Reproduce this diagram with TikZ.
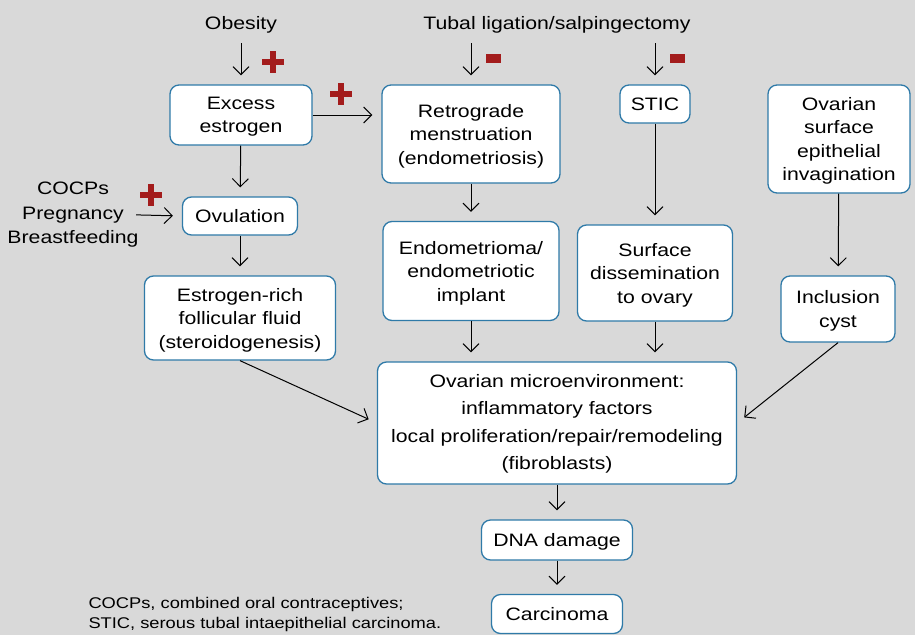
\documentclass[tikz,border=0pt]{standalone}
\usepackage{fontspec}
\setmainfont[FakeStretch=1.18]{Liberation Sans}
\usetikzlibrary{arrows.meta,positioning}
\definecolor{bggray}{HTML}{D9D9D9}
\definecolor{boxblue}{HTML}{2F7AA8}
\definecolor{signred}{HTML}{A31C1C}

\begin{document}
\begin{tikzpicture}[->,>={Straight Barb[length=8pt,width=16pt]},x=1pt,y=-1pt,line width=1pt,shorten >=9pt]
  \tikzstyle{box}=[draw=boxblue,line width=1.3pt,fill=white,rounded corners=9pt,align=center,font=\fontsize{18}{23.5}\selectfont,inner sep=2pt,text depth=-2pt]
  \tikzstyle{txt}=[align=center,font=\fontsize{18}{24.5}\selectfont,inner sep=2pt,execute at begin node={\rule{0pt}{18pt}}]
  \tikzset{plussign/.pic={\fill[signred] (-11,-3) rectangle (11,3); \fill[signred] (-3,-11) rectangle (3,11);},
           minussign/.pic={\fill[signred] (-7.5,-4.5) rectangle (7.5,4.5);}}

  \fill[bggray,-,shorten >=0pt] (0,0) rectangle (915,635);
  \useasboundingbox (0,0) rectangle (915,635);

  % boxes
  \node[box,minimum width=142,minimum height=60]  (excess) at (241,115) {Excess\\estrogen};
  \node[box,minimum width=178,minimum height=98]  (retro)  at (471,134) {Retrograde\\menstruation\\(endometriosis)};
  \node[box,minimum width=70,minimum height=38]   (stic)   at (655,104) {STIC};
  \node[box,minimum width=142,minimum height=108] (ose)    at (839,139) {Ovarian\\surface\\epithelial\\invagination};
  \node[box,minimum width=115,minimum height=38]  (ovul)   at (240,216) {Ovulation};
  \node[box,minimum width=176,minimum height=99]  (endo)   at (471,271) {Endometrioma/\\endometriotic\\implant};
  \node[box,minimum width=155,minimum height=96]  (dissem) at (655,273) {Surface\\dissemination\\to ovary};
  \node[box,minimum width=191,minimum height=84]  (follic) at (240,318) {Estrogen-rich\\follicular fluid\\(steroidogenesis)};
  \node[box,minimum width=114,minimum height=66]  (cyst)   at (838,309) {Inclusion\\cyst};
  \node[box,minimum width=359,minimum height=122,text depth=2pt,font=\fontsize{18}{27.5}\selectfont] (micro) at (557,423)
       {Ovarian microenvironment:\\inflammatory factors\\local proliferation/repair/remodeling\\(fibroblasts)};
  \node[box,minimum width=151,minimum height=40]  (dna)    at (557,540) {DNA damage};
  \node[box,minimum width=131,minimum height=39]  (carc)   at (557,614) {Carcinoma};

  % free text
  \node[txt] (obesity) at (241,22) {Obesity};
  \node[txt] (tubal)   at (557,22) {Tubal ligation/salpingectomy};
  \node[txt] (cocp)    at (73,215) {COCPs\\Pregnancy\\Breastfeeding};
  \node[align=left,anchor=west,inner sep=0pt,font=\fontsize{15.5}{20}\selectfont] (note) at (88,614)
       {COCPs, combined oral contraceptives;\\STIC, serous tubal intaepithelial carcinoma.};

  % arrows
  \draw[shorten <=8pt] (obesity) -- (excess);
  \draw[shorten <=8pt] (tubal.south -| retro.north) -- (retro.north);
  \draw[shorten <=8pt] (tubal.south -| stic.north) -- (stic.north);
  \draw (excess.east) -- (excess.east -| retro.west);
  \draw (excess) -- (ovul);
  \draw[shorten <=-5pt] (cocp.east) -- (ovul.west);
  \draw (ovul) -- (follic);
  \draw (retro) -- (endo);
  \draw (stic) -- (dissem);
  \draw (ose) -- (cyst);
  \draw (endo.south) -- (endo.south |- micro.north);
  \draw (dissem.south) -- (dissem.south |- micro.north);
  \draw (follic.south) -- (micro.west);
  \draw (cyst.south) -- (micro.east);
  \draw (micro) -- (dna);
  \draw (dna) -- (carc);

  % signs
  \pic at (273,62) {plussign};
  \pic at (341,94) {plussign};
  \pic at (151,195) {plussign};
  \pic at (493,58) {minussign};
  \pic at (677,58) {minussign};
\end{tikzpicture}
\end{document}
